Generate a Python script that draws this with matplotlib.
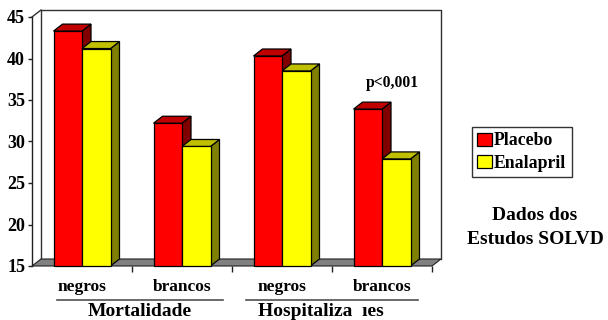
import matplotlib
matplotlib.use("Agg")
import matplotlib.pyplot as plt
from matplotlib.patches import Polygon, Patch
from matplotlib.lines import Line2D

# Data (percent)
categories = ["negros", "brancos", "negros", "brancos"]
groups = ["Mortalidade", "Hospitaliza  \u0131es"]
placebo = [43.3, 32.2, 40.3, 33.9]
enalapril = [41.2, 29.4, 38.5, 27.9]
yticks = [15, 20, 25, 30, 35, 40, 45]
series_names = ["Placebo", "Enalapril"]

W, H = 608, 320
fig = plt.figure(figsize=(W / 100, H / 100), dpi=100)
plt.rcParams["font.family"] = ["Liberation Serif", "DejaVu Serif"]
plt.rcParams["font.weight"] = "bold"

ax_l, ax_b, ax_w, ax_h = 32, 54, 400, 249
ax = fig.add_axes([ax_l / W, ax_b / H, ax_w / W, ax_h / H])
ax.set_xlim(0, 4)
ax.set_ylim(15, 45)
for s in ("top", "right", "bottom"):
    ax.spines[s].set_visible(False)
ax.spines["left"].set_linewidth(1.0)
ax.spines["left"].set_color("#202020")

# depth of the pseudo-3D effect, in pixels converted to data units
px_x = ax_w / 4.0
px_y = ax_h / 30.0
dx = 9.0 / px_x
dy = 7.0 / px_y

edge = "black"
lw = 0.9

# back wall and side wall outline
wall = Polygon([(0, 15), (dx, 15 + dy), (dx, 45 + dy), (0, 45)],
               closed=True, facecolor="white", edgecolor="none", zorder=0.5, clip_on=False)
ax.add_patch(wall)
ax.add_line(Line2D([dx, dx, 4 + dx, 4 + dx], [15 + dy, 45 + dy, 45 + dy, 15 + dy],
                   color="#303030", lw=1.0, zorder=0.6, clip_on=False))
ax.add_line(Line2D([0, dx], [45, 45 + dy], color="#303030", lw=1.0, zorder=0.6, clip_on=False))

# floor
floor = Polygon([(0, 15), (4, 15), (4 + dx, 15 + dy), (dx, 15 + dy)], closed=True,
                facecolor="#808080", edgecolor="#202020", lw=0.8, zorder=1, clip_on=False)
ax.add_patch(floor)

bw = 0.285
centers = [i + 0.5 for i in range(len(categories))]
faces = {
    "Placebo": ("#FF0000", "#C00000", "#800000"),
    "Enalapril": ("#FFFF00", "#C0C000", "#808000"),
}

z = 2
for i, c in enumerate(centers):
    for name, vals, off in (("Placebo", placebo, -bw / 2), ("Enalapril", enalapril, bw / 2)):
        front, top, side = faces[name]
        x0 = c + off - bw / 2
        x1 = x0 + bw
        v = vals[i]
        ax.add_patch(Polygon([(x1, 15), (x1 + dx, 15 + dy), (x1 + dx, v + dy), (x1, v)],
                             closed=True, facecolor=side, edgecolor=edge, lw=lw, zorder=z, clip_on=False))
        ax.add_patch(Polygon([(x0, v), (x1, v), (x1 + dx, v + dy), (x0 + dx, v + dy)],
                             closed=True, facecolor=top, edgecolor=edge, lw=lw, zorder=z, clip_on=False))
        ax.bar(c + off, v - 15, bottom=15, width=bw, color=front, edgecolor=edge,
               linewidth=lw, zorder=z + 0.5, clip_on=False)
        z += 1

ax.set_yticks(yticks)
ax.set_yticklabels([str(t) for t in yticks], fontsize=13, fontweight="bold")
ax.tick_params(axis="y", length=3, width=1.0, pad=2, color="#202020")
ax.set_xticks([1, 2, 3, 4])
ax.set_xticklabels([])
ax.tick_params(axis="x", length=4, width=1.0, color="#202020")

def fx(px):
    return px / W

def fy(py):
    return 1 - py / H

# category labels
for c, lab in zip(centers, categories):
    xpx = ax_l + c * px_x
    fig.text(fx(xpx), fy(287), lab, ha="center", va="center", fontsize=12.5, fontweight="bold")

# group labels and underlines
fig.add_artist(Line2D([fx(57), fx(223)], [fy(300), fy(300)], color="#505050", lw=1.2))
fig.add_artist(Line2D([fx(246), fx(418)], [fy(300), fy(300)], color="#505050", lw=1.2))
fig.text(fx(140), fy(311), groups[0], ha="center", va="center", fontsize=14, fontweight="bold")
fig.text(fx(321), fy(311), groups[1], ha="center", va="center", fontsize=14, fontweight="bold")

# annotation above the last group
fig.text(fx(392), fy(83), "p<0,001", ha="center", va="center", fontsize=11.3, fontweight="bold")

# legend
handles = [Patch(facecolor=faces[n][0], edgecolor="black", lw=0.9) for n in series_names]
leg = fig.legend(handles, series_names, loc="upper left",
                 bbox_to_anchor=(fx(472), fy(127)), frameon=True, fancybox=False,
                 prop={"family": "Liberation Serif", "weight": "bold", "size": 12.8},
                 handlelength=0.8, handleheight=0.75, handletextpad=0.15,
                 labelspacing=0.3, borderpad=0.3, borderaxespad=0.0)
leg.get_frame().set_edgecolor("black")
leg.get_frame().set_linewidth(1.0)

fig.text(fx(535), fy(216), "Dados dos", ha="center", va="center", fontsize=14, fontweight="bold")
fig.text(fx(535), fy(239), "Estudos SOLVD", ha="center", va="center", fontsize=14, fontweight="bold")

fig.savefig("out.png", dpi=100)
